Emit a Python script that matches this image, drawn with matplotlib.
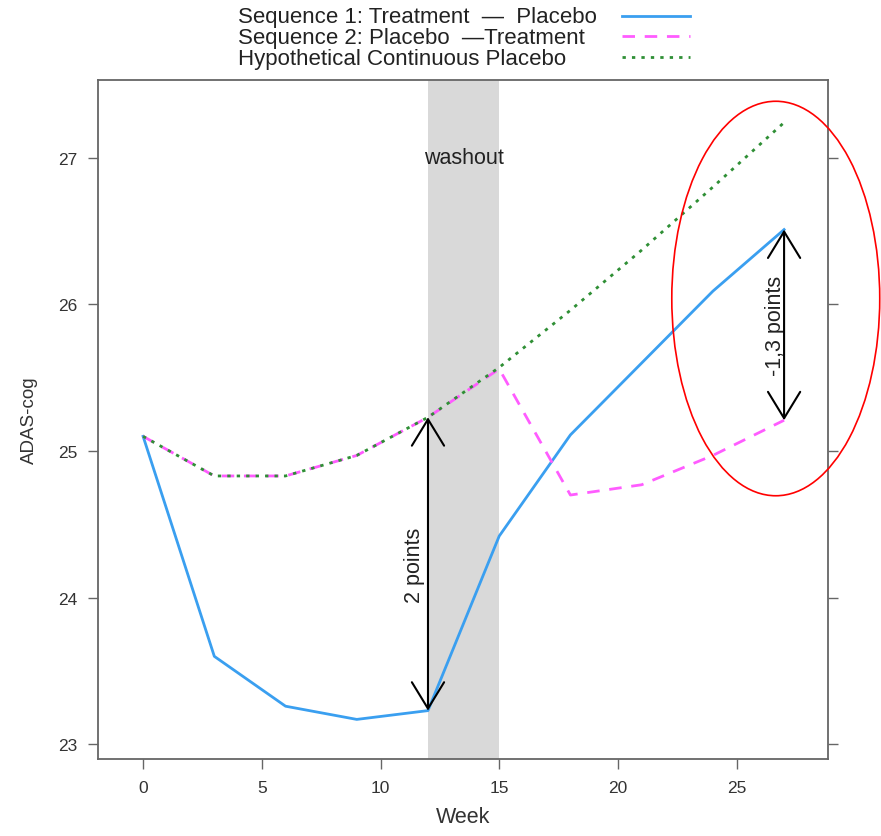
import matplotlib.pyplot as plt
from matplotlib.lines import Line2D
from matplotlib.patches import Ellipse

plt.rcParams['font.family'] = ['Liberation Sans', 'DejaVu Sans']

# ADAS-cog means by visit week
weeks = [0, 3, 6, 9, 12, 15, 18, 21, 24, 27]
seq1 = [25.10, 23.60, 23.26, 23.17, 23.23, 24.42, 25.11, 25.60, 26.09, 26.51]
seq2 = [25.10, 24.83, 24.83, 24.97, 25.23, 25.56, 24.70, 24.77, 24.97, 25.21]
placebo = [25.10, 24.83, 24.83, 24.97, 25.23, 25.57, 25.96, 26.37, 26.80, 27.24]

washout = (12, 15)
legend_labels = ["Sequence 1: Treatment  \u2014  Placebo",
                 "Sequence 2: Placebo  \u2014Treatment",
                 "Hypothetical Continuous Placebo"]

blue = "#3a9ff0"
pink = "#ff5cff"
green = "#2f8f35"
frame = "#666666"
txt = "#333333"

W, H = 881, 837
fig = plt.figure(figsize=(W / 100, H / 100), dpi=100)
ax = fig.add_axes([98 / W, 1 - 760 / H, (828 - 98) / W, (760 - 81) / H])

ax.axvspan(*washout, color="#d9d9d9", lw=0, zorder=0)
ax.text(sum(washout) / 2, 27.0, "washout", ha="center", va="center",
        fontsize=15.5, color="#222222")

ax.plot(weeks, seq1, color=blue, lw=2.0, solid_joinstyle="round", zorder=3)
ax.plot(weeks, seq2, color=pink, lw=2.0, dashes=(4.5, 3.5), zorder=3)
ax.plot(weeks, placebo, color=green, lw=2.0, dashes=(1.2, 2.2), zorder=4)

# difference arrows at end of period 1 and end of period 2
arrow = dict(arrowstyle="<->,head_length=0.95,head_width=0.58",
             color="black", lw=1.5, shrinkA=0, shrinkB=0, mutation_scale=20)
i1 = weeks.index(12)
ax.annotate("", xy=(12, seq1[i1]), xytext=(12, placebo[i1]),
            arrowprops=arrow, zorder=5)
ax.annotate("2 points", xy=(12, (seq1[i1] + placebo[i1]) / 2),
            xytext=(-3, 0), textcoords="offset pixels", rotation=90,
            ha="right", va="center", fontsize=15.5, color="#222222")
i2 = weeks.index(27)
ax.annotate("", xy=(27, seq2[i2]), xytext=(27, seq1[i2]),
            arrowprops=arrow, zorder=5)
ax.annotate("-1,3 points", xy=(27, (seq1[i2] + seq2[i2]) / 2),
            xytext=(-9, 0), textcoords="offset pixels", rotation=90,
            ha="center", va="center", fontsize=15.5, color="#222222")

ax.add_patch(Ellipse((26.65, 26.04), 8.76, 2.69, fill=False, edgecolor="red",
                     lw=1.2, clip_on=False, zorder=6))

ax.set_xlim(-1.9, 28.85)
ax.set_ylim(22.9, 27.53)
ax.set_xticks([0, 5, 10, 15, 20, 25])
ax.set_yticks([23, 24, 25, 26, 27])
ax.tick_params(axis="both", direction="out", length=7, width=1.0,
               colors=frame, labelcolor=txt, labelsize=12.5)
ax.tick_params(axis="y", right=True, pad=8)
ax.tick_params(axis="x", pad=8)
for s in ax.spines.values():
    s.set_color(frame)
    s.set_linewidth(1.3)
ax.set_xlabel("Week", fontsize=15.5, color=txt, labelpad=8)
ax.set_ylabel("ADAS-cog", fontsize=13.5, color=txt, labelpad=14)

# legend rows above the panel: text on the left, line sample on the right
styles = [dict(color=blue, lw=2.0),
          dict(color=pink, lw=2.0, dashes=(4.5, 3.5)),
          dict(color=green, lw=2.0, dashes=(1.2, 2.2))]
rows_y = [18, 38.5, 59]
for label, st, y in zip(legend_labels, styles, rows_y):
    fy = 1 - y / H
    fig.text(238 / W, fy, label, ha="left", va="center", fontsize=16,
             color="#222222")
    fig.add_artist(Line2D([622 / W, 690 / W], [fy + 1.5 / H, fy + 1.5 / H],
                          transform=fig.transFigure, **st))

fig.savefig("out.png", dpi=100)
